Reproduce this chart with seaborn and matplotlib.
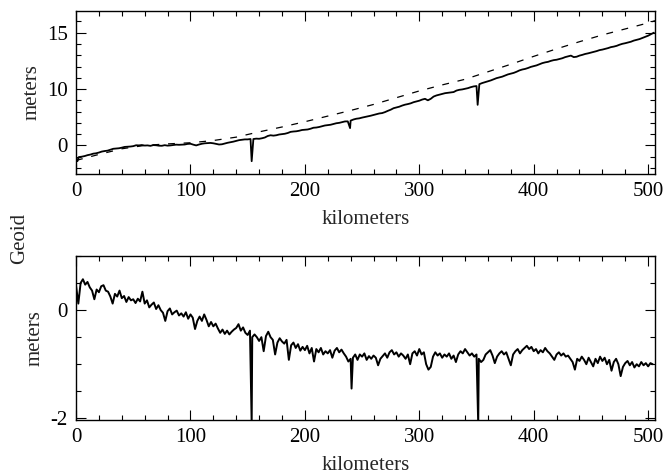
import numpy as np
import pandas as pd
import matplotlib
matplotlib.use("Agg")
import matplotlib.pyplot as plt
from matplotlib.ticker import MultipleLocator, FixedLocator
import seaborn as sns

# ---------------- data ----------------
# top panel: along-track geoid (solid), 2.5 km spacing from 0 km
top_step_km = 2.5
top_geoid_m = [
    -1.65, -1.55, -1.50, -1.42, -1.30, -1.22, -1.10, -1.05,   # 0-17.5
    -0.95, -0.82, -0.75, -0.70, -0.58, -0.45, -0.42, -0.38,   # 20-37.5
    -0.30, -0.20, -0.18, -0.15, -0.10, 0.02, 0.00, 0.05,      # 40-57.5
    -0.02, 0.00, -0.06, 0.04, 0.02, -0.04, -0.05, 0.03,       # 60-77.5
    -0.03, 0.00, 0.05, 0.10, 0.08, 0.10, 0.12, 0.20,          # 80-97.5
    0.22, 0.10, 0.00, 0.12, 0.22, 0.28, 0.30, 0.33,           # 100-117.5
    0.28, 0.20, 0.12, 0.15, 0.25, 0.35, 0.42, 0.50,           # 120-137.5
    0.60, 0.70, 0.75, 0.80, 0.80, 0.85, 0.85, 0.90,           # 140-157.5
    0.88, 0.95, 1.05, 1.25, 1.35, 1.30, 1.35, 1.45,           # 160-177.5
    1.50, 1.55, 1.65, 1.80, 1.85, 1.88, 1.95, 2.05,           # 180-197.5
    2.08, 2.12, 2.22, 2.35, 2.38, 2.45, 2.55, 2.65,           # 200-217.5
    2.70, 2.75, 2.85, 2.95, 3.00, 3.10, 3.19, 3.20,           # 220-237.5
    3.30, 3.45, 3.55, 3.60, 3.70, 3.78, 3.85, 3.95,           # 240-257.5
    4.05, 4.15, 4.25, 4.30, 4.43, 4.60, 4.75, 4.95,           # 260-277.5
    5.05, 5.15, 5.30, 5.42, 5.50, 5.60, 5.75, 5.85,           # 280-297.5
    5.95, 6.10, 6.20, 6.00, 6.20, 6.50, 6.65, 6.75,           # 300-317.5
    6.85, 6.95, 7.00, 7.05, 7.10, 7.30, 7.40, 7.45,           # 320-337.5
    7.53, 7.62, 7.75, 7.85, 7.90, 8.15, 8.30, 8.42,           # 340-357.5
    8.55, 8.65, 8.80, 8.95, 9.05, 9.15, 9.30, 9.45,           # 360-377.5
    9.55, 9.65, 9.80, 9.98, 10.10, 10.18, 10.30, 10.45,       # 380-397.5
    10.55, 10.65, 10.80, 10.95, 11.05, 11.12, 11.25, 11.35,   # 400-417.5
    11.40, 11.50, 11.60, 11.75, 11.85, 11.95, 11.75, 11.80,   # 420-437.5
    11.95, 12.05, 12.17, 12.25, 12.35, 12.45, 12.55, 12.68,   # 440-457.5
    12.75, 12.85, 12.95, 13.08, 13.15, 13.25, 13.40, 13.52,   # 460-477.5
    13.60, 13.70, 13.80, 13.95, 14.05, 14.15, 14.30, 14.45,   # 480-497.5
    14.60, 14.80, 15.00,                                      # 500-505
]
top_spike_km = [1.2, 153.5, 239.5, 351.0]
top_spike_m = [-2.1, -2.1, 2.3, 5.4]

# top panel: reference (dashed) curve
ref_km = [0, 20, 40, 60, 80, 100, 120, 140, 160, 180, 200, 220, 240, 260,
          280, 300, 320, 340, 360, 380, 400, 420, 440, 460, 480, 500, 506]
ref_m = [-2.0, -1.2, -0.45, 0.0, 0.2, 0.35, 0.65, 1.1, 1.8, 2.45, 3.15, 3.9,
         4.65, 5.45, 6.35, 7.25, 8.05, 8.8, 9.8, 10.8, 11.85, 12.85, 13.8,
         14.7, 15.5, 16.3, 16.6]

# bottom panel: residual geoid, 2 km spacing from 0 km
bot_step_km = 2.0
bot_resid_m = [
    0.45, 0.12, 0.50, 0.57, 0.47, 0.52, 0.42, 0.36, 0.20, 0.38,          # 0-18
    0.33, 0.44, 0.46, 0.36, 0.34, 0.25, 0.12, 0.30, 0.25, 0.36,          # 20-38
    0.22, 0.26, 0.15, 0.24, 0.18, 0.20, 0.13, 0.21, 0.16, 0.34,          # 40-58
    0.12, 0.18, 0.05, 0.10, 0.14, 0.02, 0.09, 0.00, -0.05, -0.20,        # 60-78
    -0.02, 0.03, -0.08, -0.04, -0.01, -0.10, -0.06, -0.12, -0.04, -0.16, # 80-98
    -0.08, -0.14, -0.35, -0.20, -0.12, -0.20, -0.08, -0.18, -0.30, -0.22,# 100-118
    -0.30, -0.25, -0.34, -0.42, -0.36, -0.44, -0.38, -0.45, -0.40, -0.36,# 120-138
    -0.33, -0.26, -0.38, -0.32, -0.42, -0.46, -0.38, -0.50, -0.45, -0.50,# 140-158
    -0.57, -0.50, -0.76, -0.48, -0.40, -0.50, -0.55, -0.82, -0.60, -0.52,# 160-178
    -0.58, -0.62, -0.55, -0.92, -0.65, -0.60, -0.70, -0.63, -0.75, -0.68,# 180-198
    -0.74, -0.66, -0.80, -0.70, -0.95, -0.72, -0.78, -0.70, -0.82, -0.76,# 200-218
    -0.80, -0.74, -0.88, -0.75, -0.70, -0.78, -0.73, -0.80, -0.86, -0.95,# 220-238
    -0.90, -0.88, -0.82, -0.92, -0.82, -0.86, -0.80, -0.92, -0.85, -0.90,# 240-258
    -0.84, -0.88, -1.02, -0.90, -0.85, -0.80, -0.88, -0.78, -0.74, -0.82,# 260-278
    -0.78, -0.86, -0.80, -0.84, -0.90, -0.82, -1.00, -0.80, -0.76, -0.84,# 280-298
    -0.72, -0.82, -0.78, -1.00, -1.10, -1.05, -0.86, -0.78, -0.84, -0.80,# 300-318
    -0.88, -0.82, -0.86, -0.80, -0.90, -0.84, -0.96, -0.82, -0.76, -0.80,# 320-338
    -0.72, -0.78, -0.84, -0.80, -0.86, -0.82, -0.90, -0.96, -0.92, -0.82,# 340-358
    -0.78, -0.74, -0.84, -0.98, -0.86, -0.80, -0.76, -0.82, -0.78, -0.90,# 360-378
    -1.02, -0.82, -0.76, -0.72, -0.80, -0.74, -0.70, -0.66, -0.72, -0.68,# 380-398
    -0.76, -0.72, -0.80, -0.74, -0.78, -0.70, -0.76, -0.80, -0.86, -0.92,# 400-418
    -0.82, -0.78, -0.84, -0.80, -0.86, -0.84, -0.90, -0.96, -1.10, -0.90,# 420-438
    -0.94, -0.86, -0.92, -1.00, -0.88, -0.96, -1.04, -0.90, -0.98, -0.86,# 440-458
    -0.94, -0.88, -1.00, -0.92, -1.12, -0.96, -0.90, -1.00, -1.22, -1.05,# 460-478
    -0.98, -0.94, -1.02, -0.96, -1.06, -1.00, -1.04, -0.96, -1.02, -0.98,# 480-498
    -1.04, -0.98, -1.00,                                                 # 500-504
]
bot_spike_km = [153.5, 240.8, 351.5]
bot_spike_m = [-2.1, -1.45, -2.1]

top_yticks = [0, 7.5, 15]
top_yticklabels = ["0", "10", "15"]
bot_yticks = [-2, 0]
bot_yticklabels = ["-2", "0"]
xticks = [0, 100, 200, 300, 400, 500]

# ---------------- build frames ----------------
def series_frame(step, vals, skm, sval):
    km = step * np.arange(len(vals))
    df = pd.DataFrame({"km": np.concatenate([km, skm]),
                       "m": np.concatenate([vals, sval])})
    return df.sort_values("km").reset_index(drop=True)

top_df = series_frame(top_step_km, top_geoid_m, top_spike_km, top_spike_m)
ref_df = pd.DataFrame({"km": ref_km, "m": ref_m})
bot_df = series_frame(bot_step_km, bot_resid_m, bot_spike_km, bot_spike_m)

# ---------------- style ----------------
sns.set_theme(style="ticks")
plt.rcParams["font.family"] = ["Liberation Serif", "DejaVu Serif"]
plt.rcParams["axes.unicode_minus"] = False
plt.rcParams["axes.edgecolor"] = "black"
plt.rcParams["axes.linewidth"] = 1.0
FS = 15

fig = plt.figure(figsize=(6.67, 4.74), dpi=100)
ax1 = fig.add_axes([0.114, 0.633, 0.868, 0.344])
ax2 = fig.add_axes([0.114, 0.114, 0.868, 0.346])

sns.lineplot(data=top_df, x="km", y="m", ax=ax1, color="black", lw=1.3,
             estimator=None, sort=False)
sns.lineplot(data=ref_df, x="km", y="m", ax=ax1, color="black", lw=0.9,
             linestyle=(0, (5.5, 7.0)), estimator=None, sort=False)
sns.lineplot(data=bot_df, x="km", y="m", ax=ax2, color="black", lw=1.4,
             estimator=None, sort=False)

for ax in (ax1, ax2):
    ax.set_xlim(0, 506)
    ax.xaxis.set_major_locator(FixedLocator(xticks))
    ax.xaxis.set_minor_locator(MultipleLocator(20))
    ax.tick_params(which="both", direction="in", top=True, right=True,
                   labelsize=FS, colors="black", width=0.8)
    ax.tick_params(which="major", length=7, pad=6)
    ax.tick_params(which="minor", length=3.5)
    ax.set_xlabel("kilometers", fontsize=FS, labelpad=6)
    ax.set_ylabel("meters", fontsize=FS, labelpad=4)
    for s in ax.spines.values():
        s.set_visible(True)
        s.set_color("black")

ax1.set_ylim(-3.8, 17.9)
ax1.yaxis.set_major_locator(FixedLocator(top_yticks))
ax1.set_yticklabels(top_yticklabels)
ax1.yaxis.set_minor_locator(MultipleLocator(1.5))

ax2.set_ylim(-2.03, 1.0)
ax2.yaxis.set_major_locator(FixedLocator(bot_yticks))
ax2.set_yticklabels(bot_yticklabels)
ax2.yaxis.set_minor_locator(MultipleLocator(0.5))

fig.text(0.03, 0.498, "Geoid", rotation=90, fontsize=FS,
         ha="center", va="center")

fig.savefig("out.png", dpi=100)
